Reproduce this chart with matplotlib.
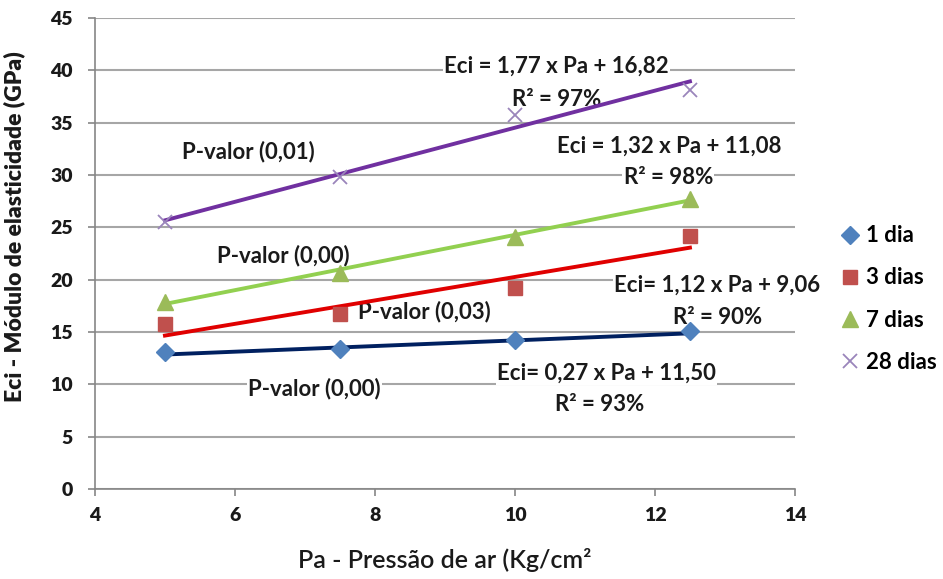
import matplotlib.pyplot as plt
import numpy as np

plt.rcParams["font.family"] = ["Lato", "DejaVu Sans"]
plt.rcParams["font.weight"] = "bold"
plt.rcParams["axes.labelweight"] = "bold"

# Air pressure (kg/cm2) and elastic modulus (GPa) per curing age
pressao = [5, 7.5, 10, 12.5]
series_nomes = ["1 dia", "3 dias", "7 dias", "28 dias"]
eci_1dia = [13.1, 13.4, 14.2, 15.1]
eci_3dias = [15.8, 16.7, 19.2, 24.2]
eci_7dias = [17.9, 20.6, 24.1, 27.7]
eci_28dias = [25.5, 29.8, 35.7, 38.1]

# Linear fits (slope, intercept) reported for each series
ajuste_1dia = (0.27, 11.50)
ajuste_3dias = (1.12, 9.06)
ajuste_7dias = (1.32, 11.08)
ajuste_28dias = (1.77, 16.82)

fig = plt.figure(figsize=(9.43, 5.79), dpi=100)
ax = fig.add_axes([0.1007, 0.1554, 0.7423, 0.8135])

estilos = [
    ("D", "#4F81BD", "#002060", 9),
    ("s", "#C0504D", "#E00000", 9.5),
    ("^", "#9BBB59", "#92D050", 11),
    ("x", "#8064A2", "#7030A0", 10),
]
dados = [eci_1dia, eci_3dias, eci_7dias, eci_28dias]
ajustes = [ajuste_1dia, ajuste_3dias, ajuste_7dias, ajuste_28dias]

xs = np.array([pressao[0], pressao[-1]])
for nome, y, (a, b), (mk, mc, lc, ms) in zip(series_nomes, dados, ajustes, estilos):
    ax.plot(xs, a * xs + b, color=lc, lw=2.8, zorder=3)
    if mk == "x":
        ax.plot(pressao, y, ls="none", marker=mk, ms=ms, mec="#9A85BB", mew=1.3,
                label=nome, zorder=4)
    else:
        ax.plot(pressao, y, ls="none", marker=mk, ms=ms, mfc=mc, mec=mc,
                label=nome, zorder=4)

caixa = dict(facecolor="white", edgecolor="none", pad=1.0)
fs = 16
textos = [
    (10.59, 40.38, "Eci = 1,77 x Pa + 16,82"),
    (10.59, 37.22, "R² = 97%"),
    (6.19, 32.25, "P-valor (0,01)"),
    (12.21, 32.73, "Eci = 1,32 x Pa + 11,08"),
    (12.19, 29.76, "R² = 98%"),
    (6.69, 22.3, "P-valor (0,00)"),
    (8.71, 16.94, "P-valor (0,03)"),
    (12.89, 19.52, "Eci= 1,12 x Pa + 9,06"),
    (12.9, 16.36, "R² = 90%"),
    (11.31, 11.1, "Eci= 0,27 x Pa + 11,50"),
    (11.21, 8.04, "R² = 93%"),
    (7.14, 9.57, "P-valor (0,00)"),
]
for x, y, t in textos:
    ax.text(x, y, t, ha="center", va="center", fontsize=fs,
            color="#1a1a1a", bbox=caixa, zorder=2)

ax.set_xlim(4, 14)
ax.set_ylim(0, 45)
ax.set_xticks(range(4, 15, 2))
ax.set_yticks(range(0, 46, 5))
ax.set_xticklabels([str(v) for v in range(4, 15, 2)], fontweight="heavy")
ax.set_yticklabels([str(v) for v in range(0, 46, 5)], fontweight="heavy")
ax.yaxis.grid(True, color="#a6a6a6", lw=1.5)
ax.set_axisbelow(True)
for lado in ["top", "right"]:
    ax.spines[lado].set_visible(False)
for lado in ["left", "bottom"]:
    ax.spines[lado].set_color("#868686")
    ax.spines[lado].set_linewidth(1.2)
ax.tick_params(axis="both", colors="#868686", length=5, width=1.2,
               labelsize=14, labelcolor="#1a1a1a")
ax.tick_params(axis="x", pad=8)
ax.tick_params(axis="y", pad=11)

ax.set_xlabel("Pa - Pressão de ar (Kg/cm²", fontsize=18, fontweight="semibold",
              color="#1a1a1a")
ax.xaxis.set_label_coords(0.5, -0.125)
ax.set_ylabel("Eci - Módulo de elasticidade (GPa)", fontsize=16.5,
              fontweight="heavy", color="#1a1a1a")
ax.yaxis.set_label_coords(-0.1, 0.558)

ax.legend(loc="center left", bbox_to_anchor=(0.8897, 0.4836),
          bbox_transform=fig.transFigure, frameon=False,
          prop={"weight": "bold", "size": 16}, borderpad=0, borderaxespad=0,
          labelspacing=0.95, handletextpad=0.2, handlelength=1.0)

fig.savefig("out.png", dpi=100)
